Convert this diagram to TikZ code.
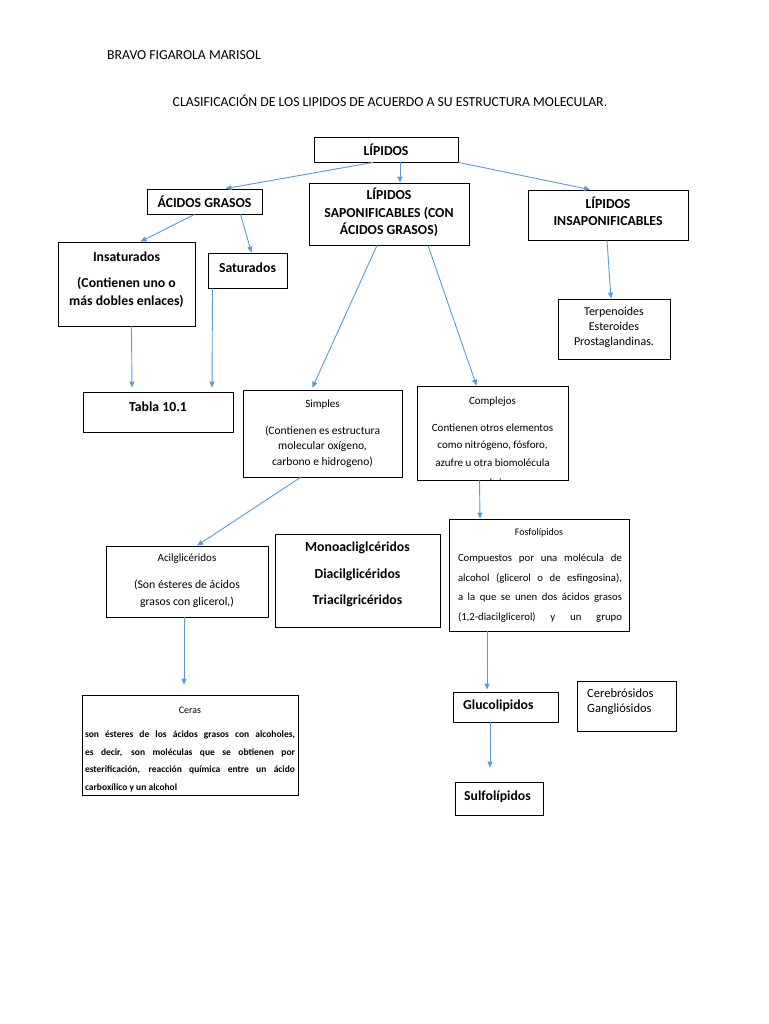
\documentclass[tikz,border=0pt]{standalone}
\usepackage{fontspec}
\setmainfont{Carlito}
\usetikzlibrary{arrows.meta}
\usetikzlibrary{positioning}
\definecolor{arrowblue}{HTML}{5B9BD5}
\newcommand{\fsz}[2]{\fontsize{#1pt}{#2pt}\selectfont}
\tikzset{
  bx/.style={draw=black,line width=0.8pt,inner sep=0pt},
  txt/.style={inner sep=0pt,align=center},
  lnk/.style={draw=arrowblue,line width=0.9pt,-{Triangle[length=6pt,width=5pt]}}
}

\begin{document}
\begin{tikzpicture}[x=1pt,y=-1pt]
  \fill[white] (0,0) rectangle (768,1024);
  \useasboundingbox (0,0) rectangle (768,1024);
  % header
  \node[txt,anchor=west,font=\fsz{13.75}{16}] (autor) at (107,55) {BRAVO FIGAROLA MARISOL};
  \node[txt,font=\fsz{13.75}{16}] (titulo) at (390,101) {CLASIFICACIÓN DE LOS LIPIDOS DE ACUERDO A SU ESTRUCTURA MOLECULAR.};
  % boxes
  \node[bx,minimum width=144pt,minimum height=25pt] (lip) at (386,149.5) {};
  \node[bx,minimum width=115pt,minimum height=25pt] (acidos) at (204.5,201.5) {};
  \node[bx,minimum width=160pt,minimum height=62pt] (sapon) at (389,214) {};
  \node[bx,minimum width=160pt,minimum height=50pt] (insap) at (608,215) {};
  \node[bx,minimum width=137pt,minimum height=84pt] (insat) at (126.5,284) {};
  \node[bx,minimum width=79pt,minimum height=35pt] (satur) at (247.5,270.5) {};
  \node[bx,minimum width=112pt,minimum height=60pt] (terp) at (614,329) {};
  \node[bx,minimum width=150pt,minimum height=40pt] (tabla) at (158,412) {};
  \node[bx,minimum width=159pt,minimum height=87pt] (simples) at (322.5,433.5) {};
  \node[bx,minimum width=151pt,minimum height=94pt] (complejos) at (492.5,433) {};
  \node[bx,minimum width=162pt,minimum height=71pt] (acil) at (187,581.5) {};
  \node[bx,minimum width=165pt,minimum height=93pt] (mono) at (357.5,580.5) {};
  \node[bx,minimum width=180pt,minimum height=112pt] (fosf) at (539,575) {};
  \node[bx,minimum width=216pt,minimum height=100pt] (ceras) at (190,745) {};
  \node[bx,minimum width=105pt,minimum height=30pt] (gluco) at (505.5,707) {};
  \node[bx,minimum width=99pt,minimum height=50pt] (cereb) at (626.5,706) {};
  \node[bx,minimum width=88pt,minimum height=33pt] (sulfo) at (499,798.5) {};
  % texts
  \node[txt,font=\bfseries\fsz{13.75}{16}] (lipT) at (386,149.5) {LÍPIDOS};
  \node[txt,font=\bfseries\fsz{13.75}{16}] (acidosT) at (204.5,202) {ÁCIDOS GRASOS};
  \node[txt,font=\bfseries\fsz{13.75}{17.5}] (saponT) at (389,212.5) {LÍPIDOS\\SAPONIFICABLES (CON\\ÁCIDOS GRASOS)};
  \node[txt,font=\bfseries\fsz{13.75}{17}] (insapT) at (608,211.5) {LÍPIDOS\\INSAPONIFICABLES};
  \node[txt,font=\bfseries\fsz{13.75}{18}] (insatT) at (126.5,257) {Insaturados};
  \node[txt,font=\bfseries\fsz{13.75}{18}] (insatB) at (126.5,292) {(Contienen uno o\\más dobles enlaces)};
  \node[txt,font=\bfseries\fsz{13.75}{16}] (saturT) at (247.5,267.5) {Saturados};
  \node[txt,font=\fsz{12}{15}] (terpT) at (614,327) {Terpenoides\\Esteroides\\Prostaglandinas.};
  \node[txt,font=\bfseries\fsz{13.75}{16}] (tablaT) at (158,407) {Tabla 10.1};
  \node[txt,font=\fsz{11}{14}] (simplesT) at (322.5,405) {Simples};
  \node[txt,font=\fsz{11.5}{15.5}] (simplesB) at (322.5,446.5) {(Contienen es estructura\\molecular oxígeno,\\carbono e hidrogeno)};
  \node[txt,font=\fsz{11}{14}] (complejosT) at (492.5,402) {Complejos};
  \begin{scope}
    \clip (complejos.north west) rectangle (complejos.south east);
    \node[txt,font=\fsz{11}{17.5}] (complejosB) at (492.5,456) {Contienen otros elementos\\como nitrógeno, fósforo,\\azufre u otra biomolécula\\[3pt]orgánica};
  \end{scope}
  \node[txt,font=\fsz{11}{14}] (acilT) at (187,559) {Acilglicéridos};
  \node[txt,font=\fsz{11.75}{17}] (acilB) at (187,593.5) {(Son ésteres de ácidos\\grasos con glicerol,)};
  \node[txt,font=\bfseries\fsz{13.75}{26.5}] (monoT) at (357.5,574.5) {Monoacliglcéridos\\Diacilglicéridos\\Triacilgricéridos};
  \node[txt,font=\fsz{10}{13}] (fosfT) at (539,533) {Fosfolípidos};
  \begin{scope}
    \clip (fosf.north west) rectangle (fosf.south east);
    \node[txt,anchor=north,text width=164pt,align=justify,font=\fsz{10.75}{19.5}] (fosfB) at (540,554) {Compuestos por una molécula de\linebreak alcohol (glicerol o de esfingosina),\linebreak a la que se unen dos ácidos grasos\linebreak (1,2-diacilglicerol) y un grupo\linebreak fosfato};
  \end{scope}
  \node[txt,font=\fsz{10}{13}] (cerasT) at (190,710) {Ceras};
  \node[txt,anchor=north,text width=210pt,align=justify,font=\bfseries\fsz{9.5}{17.5}] (cerasB) at (190,731) {son ésteres de los ácidos grasos con alcoholes,\linebreak es decir, son moléculas que se obtienen por\linebreak esterificación, reacción química entre un ácido\linebreak carboxílico y un alcohol};
  \node[txt,anchor=west,font=\bfseries\fsz{13.75}{16}] (glucoT) at (463,706) {Glucolipidos};
  \node[txt,anchor=west,align=left,font=\fsz{12.5}{15.5}] (cerebT) at (587,701.5) {Cerebrósidos\\Gangliósidos};
  \node[txt,anchor=west,font=\bfseries\fsz{13.75}{16}] (sulfoT) at (464,797) {Sulfolípidos};
  % connectors
  \draw[lnk] ([xshift=-13pt]lip.south) -- ([xshift=21pt]acidos.north);
  \draw[lnk] ([xshift=14pt]lip.south) -- ([xshift=11pt]sapon.north);
  \draw[lnk] (lip.south east) -- ([xshift=-18pt]insap.north);
  \draw[lnk] ([xshift=-10pt]acidos.south) -- ([xshift=14pt]insat.north);
  \draw[lnk] ([xshift=36pt]acidos.south) -- ([xshift=4pt]satur.north);
  \draw[lnk,shorten >=4pt] ([xshift=5pt]insat.south) -- ([xshift=-26pt]tabla.north);
  \draw[lnk,shorten >=4pt] ([xshift=-35pt]satur.south) -- ([xshift=54pt]tabla.north);
  \draw[lnk,shorten >=2pt] ([xshift=-12pt]sapon.south) -- ([xshift=-11pt]simples.north);
  \draw[lnk] ([xshift=39pt]sapon.south) -- ([xshift=-16pt]complejos.north);
  \draw[lnk] ([xshift=-1pt]insap.south) -- ([xshift=-3pt]terp.north);
  \draw[lnk] ([xshift=-22pt]simples.south) -- ([xshift=10pt]acil.north);
  \draw[lnk] ([xshift=-13pt]complejos.south) -- ([xshift=-59pt]fosf.north);
  \draw[lnk,shorten >=10pt] ([xshift=-3pt]acil.south) -- ([xshift=-6pt]ceras.north);
  \draw[lnk,shorten >=2pt] ([xshift=-52pt]fosf.south) -- ([xshift=-18.5pt]gluco.north);
  \draw[lnk,shorten >=14pt] ([xshift=-15.5pt]gluco.south) -- ([xshift=-9pt]sulfo.north);
\end{tikzpicture}
\end{document}
